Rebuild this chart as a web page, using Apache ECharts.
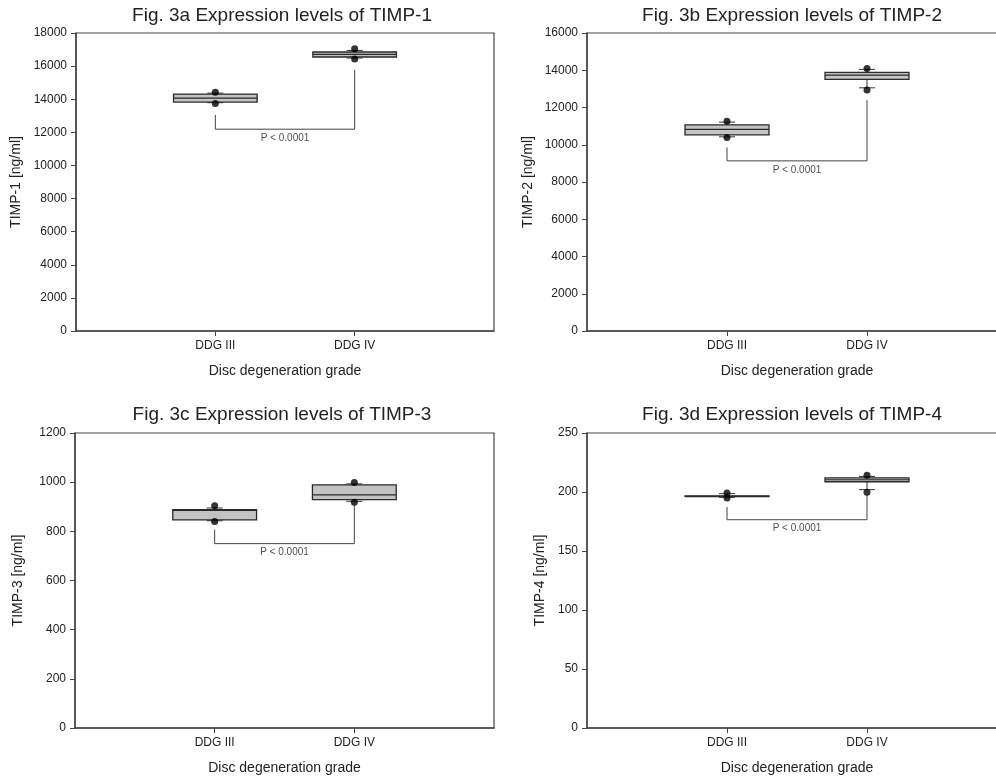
<!DOCTYPE html>
<html>
<head>
<meta charset="utf-8">
<script src="https://cdn.jsdelivr.net/npm/echarts@6/dist/echarts.min.js"></script>
<style>
html, body { margin: 0; padding: 0; background: #fff; }
#chart { width: 996px; height: 778px; }
</style>
</head>
<body>
<div id="chart"></div>
<script>
// data
var categories = ['DDG III', 'DDG IV'];
var titles = ['Fig. 3a Expression levels of TIMP-1', 'Fig. 3b Expression levels of TIMP-2',
              'Fig. 3c Expression levels of TIMP-3', 'Fig. 3d Expression levels of TIMP-4'];
var yNames = ['TIMP-1 [ng/ml]', 'TIMP-2 [ng/ml]', 'TIMP-3 [ng/ml]', 'TIMP-4 [ng/ml]'];
var yMax = [18000, 16000, 1200, 250];
var yStep = [2000, 2000, 200, 50];

// [low whisker, Q1, median, Q3, high whisker] for DDG III, DDG IV
var timp1Box = [[13790, 13826, 14068, 14310, 14370], [16489, 16550, 16707, 16852, 16949]];
var timp2Box = [[10425, 10532, 10822, 11070, 11215], [13057, 13509, 13740, 13885, 14046]];
var timp3Box = [[843, 847, 885, 888, 895], [922, 929, 948, 989, 993]];
var timp4Box = [[195.5, 196.0, 196.3, 196.6, 198.6], [202.0, 208.7, 210.4, 211.9, 213.2]];

// outlying points [above, below] for DDG III, DDG IV
var timp1Out = [[14420, 13741], [17052, 16429]];
var timp2Out = [[11268, 10392], [14100, 12934]];
var timp3Out = [[904, 840], [999, 918]];
var timp4Out = [[199.2, 194.9], [214.1, 199.7]];

// comparison bracket: [left top, bar level, right top]
var timp1Bracket = [13050, 12190, 15780];
var timp2Bracket = [9855, 9135, 12397];
var timp3Bracket = [807, 750, 908];
var timp4Bracket = [187.3, 176.5, 197.7];
var pText = 'P < 0.0001';

var boxes = [timp1Box, timp2Box, timp3Box, timp4Box];
var outs = [timp1Out, timp2Out, timp3Out, timp4Out];
var brackets = [timp1Bracket, timp2Bracket, timp3Bracket, timp4Bracket];

var font = 'Liberation Sans, Arial, sans-serif';
var ink = '#222';
var axisCol = '#444';

var grids = [
    { left: 76, top: 33, width: 418, height: 298 },
    { left: 587, top: 33, width: 420, height: 298 },
    { left: 75, top: 433, width: 419, height: 295 },
    { left: 587, top: 433, width: 420, height: 295 }
];
var nameGaps = [53, 52, 50, 40];
var titlePos = [[282, 6], [792, 6], [282, 405], [792, 405]];

function renderBox(params, api) {
    var x = api.value(0);
    var lo = api.coord([x, api.value(1)]);
    var q1 = api.coord([x, api.value(2)]);
    var md = api.coord([x, api.value(3)]);
    var q3 = api.coord([x, api.value(4)]);
    var hi = api.coord([x, api.value(5)]);
    var half = api.size([0.6, 0])[0] / 2;
    var cap = 8;
    var line = { stroke: '#333', lineWidth: 1 };
    return {
        type: 'group',
        children: [
            { type: 'line', shape: { x1: lo[0], y1: lo[1], x2: q1[0], y2: q1[1] }, style: line },
            { type: 'line', shape: { x1: hi[0], y1: hi[1], x2: q3[0], y2: q3[1] }, style: line },
            { type: 'line', shape: { x1: lo[0] - cap, y1: lo[1], x2: lo[0] + cap, y2: lo[1] }, style: line },
            { type: 'line', shape: { x1: hi[0] - cap, y1: hi[1], x2: hi[0] + cap, y2: hi[1] }, style: line },
            { type: 'rect', shape: { x: q3[0] - half, y: q3[1], width: half * 2, height: q1[1] - q3[1] },
              style: { fill: '#c3c3c3', stroke: '#2a2a2a', lineWidth: 1.3 } },
            { type: 'line', shape: { x1: md[0] - half, y1: md[1], x2: md[0] + half, y2: md[1] },
              style: { stroke: '#2a2a2a', lineWidth: 1.2 } }
        ]
    };
}

var xAxes = [], yAxes = [], series = [], graphics = [];
for (var i = 0; i < 4; i++) {
    xAxes.push({
        gridIndex: i, type: 'value', min: 0, max: 3, interval: 1,
        name: 'Disc degeneration grade', nameLocation: 'middle', nameGap: 33,
        nameTextStyle: { fontSize: 14, color: ink, fontFamily: font },
        axisLine: { show: true, lineStyle: { color: axisCol, width: 1.5 } },
        axisTick: { show: true, length: 5, customValues: [1, 2], lineStyle: { color: axisCol } },
        axisLabel: {
            fontSize: 12, color: ink, fontFamily: font, margin: 9, customValues: [1, 2],
            formatter: function (v) { return categories[v - 1] || ''; }
        },
        splitLine: { show: false }
    });
    yAxes.push({
        gridIndex: i, type: 'value', min: 0, max: yMax[i], interval: yStep[i],
        name: yNames[i], nameLocation: 'middle', nameGap: nameGaps[i],
        nameTextStyle: { fontSize: 14, color: ink, fontFamily: font },
        axisLine: { show: true, lineStyle: { color: axisCol, width: 1.5 } },
        axisTick: { show: true, length: 5, lineStyle: { color: axisCol } },
        axisLabel: { fontSize: 12, color: ink, fontFamily: font, margin: 9,
                     formatter: function (v) { return String(v); } },
        splitLine: { show: false }
    });

    var boxData = boxes[i].map(function (b, k) { return [k + 1].concat(b); });
    series.push({
        type: 'custom', xAxisIndex: i, yAxisIndex: i, renderItem: renderBox,
        encode: { x: 0, y: [1, 2, 3, 4, 5] }, data: boxData, silent: true
    });

    var outData = [];
    outs[i].forEach(function (o, k) { o.forEach(function (v) { outData.push([k + 1, v]); }); });
    series.push({
        type: 'scatter', xAxisIndex: i, yAxisIndex: i, data: outData,
        symbolSize: 7, itemStyle: { color: '#000' }, silent: true, z: 5
    });

    var br = brackets[i];
    series.push({
        type: 'line', xAxisIndex: i, yAxisIndex: i,
        data: [[1, br[0]], [1, br[1]], [2, br[1]], [2, br[2]]],
        symbol: 'none', lineStyle: { color: '#444', width: 1 }, silent: true
    });
    series.push({
        type: 'scatter', xAxisIndex: i, yAxisIndex: i, data: [[1.5, br[1]]],
        symbolSize: 0, silent: true,
        label: { show: true, position: 'bottom', distance: 4, formatter: pText,
                 fontSize: 10, color: ink, fontFamily: font }
    });

    graphics.push({
        type: 'text', x: titlePos[i][0], y: titlePos[i][1],
        style: { text: titles[i], fontSize: 19, fontFamily: font, fill: ink,
                 align: 'center', verticalAlign: 'top' }
    });
}

var chart = echarts.init(document.getElementById('chart'));
chart.setOption({
    animation: false,
    backgroundColor: '#fff',
    grid: grids.map(function (g) {
        return Object.assign({ show: true, borderColor: axisCol, borderWidth: 1.2,
                               containLabel: false, outerBoundsMode: 'none' }, g);
    }),
    xAxis: xAxes,
    yAxis: yAxes,
    graphic: graphics,
    series: series
});
</script>
</body>
</html>
